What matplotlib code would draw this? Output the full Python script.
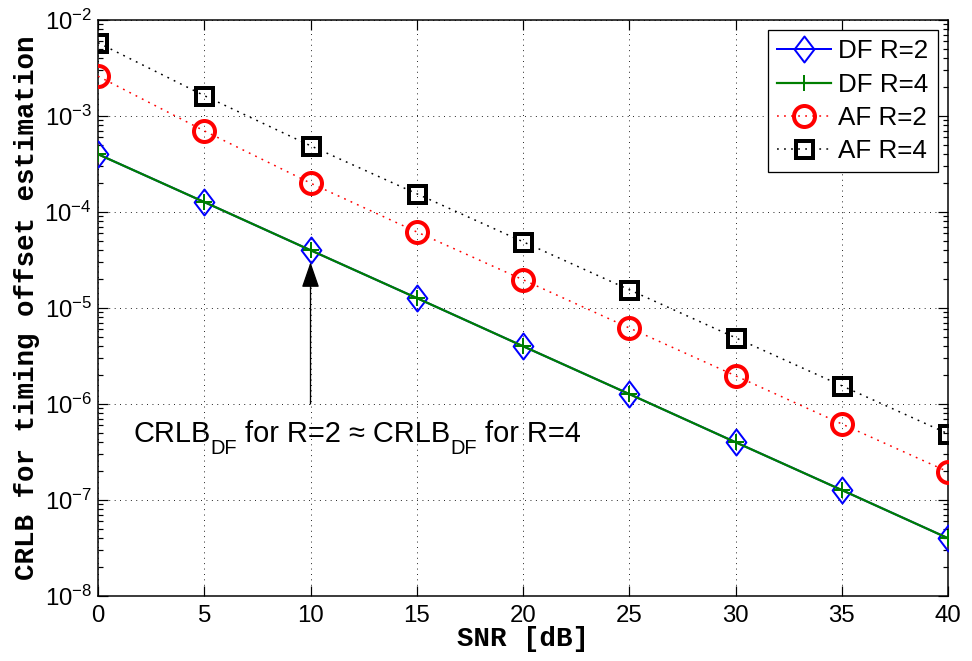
import matplotlib
matplotlib.use("Agg")
import matplotlib.pyplot as plt
from matplotlib.path import Path
from matplotlib.ticker import FixedLocator, NullFormatter, LogFormatterSciNotation
from matplotlib.transforms import offset_copy

# ---- data ----
snr = [0, 5, 10, 15, 20, 25, 30, 35, 40]
df_r2 = [4.0e-4, 1.27e-4, 4.0e-5, 1.27e-5, 4.0e-6, 1.27e-6, 4.0e-7, 1.27e-7, 4.0e-8]
df_r4 = [4.0e-4, 1.27e-4, 4.0e-5, 1.27e-5, 4.0e-6, 1.27e-6, 4.0e-7, 1.27e-7, 4.0e-8]
af_r2 = [2.6e-3, 7.0e-4, 2.0e-4, 6.2e-5, 1.97e-5, 6.2e-6, 1.97e-6, 6.2e-7, 1.97e-7]
af_r4 = [5.8e-3, 1.63e-3, 4.9e-4, 1.55e-4, 4.9e-5, 1.55e-5, 4.9e-6, 1.55e-6, 4.9e-7]
labels = ["DF R=2", "DF R=4", "AF R=2", "AF R=4"]
xticks = [0, 5, 10, 15, 20, 25, 30, 35, 40]
yticks = [1e-8, 1e-7, 1e-6, 1e-5, 1e-4, 1e-3, 1e-2]
annot_pieces = [("CRLB", False), ("DF", True), (" for R=2 \u2248 CRLB", False),
                ("DF", True), (" for R=4", False)]

plt.rcParams['font.family'] = ['Liberation Sans', 'DejaVu Sans']
plt.rcParams['mathtext.default'] = 'regular'

W, H = 972, 661
fig = plt.figure(figsize=(W / 72, H / 72), dpi=72)
ax = fig.add_axes([98 / W, 1 - 596 / H, (948 - 98) / W, (596 - 20) / H])

diamond = Path([(0, 1), (0.76, 0), (0, -1), (-0.76, 0), (0, 1)],
               [Path.MOVETO, Path.LINETO, Path.LINETO, Path.LINETO, Path.CLOSEPOLY])

ax.plot(snr, df_r2, color='#0000ff', lw=2, marker=diamond, ms=26,
        mfc='none', mec='#0000ff', mew=2, label=labels[0], zorder=3)
ax.plot(snr, df_r4, color='#007f00', lw=2.2, marker='+', ms=16,
        mew=2, label=labels[1], zorder=4)
ax.plot(snr, af_r2, color='#ff0000', lw=1.5, ls=(0, (1.2, 3.5)), marker='o', ms=21,
        mfc='none', mec='#ff0000', mew=4, label=labels[2], zorder=3)
ax.plot(snr, af_r4, color='black', lw=1.5, ls=(0, (1.2, 3.5)), marker='s', ms=17,
        mfc='none', mec='black', mew=4, label=labels[3], zorder=3)

ax.set_yscale('log')
ax.set_xlim(0, 40)
ax.set_ylim(1e-8, 1e-2)
ax.xaxis.set_major_locator(FixedLocator(xticks))
ax.yaxis.set_major_locator(FixedLocator(yticks))
ax.yaxis.set_major_formatter(LogFormatterSciNotation())
minor = [m * d for d in yticks[:-1] for m in range(2, 10)]
ax.yaxis.set_minor_locator(FixedLocator(minor))
ax.yaxis.set_minor_formatter(NullFormatter())

ax.grid(True, which='major', color='black', lw=0.9, ls=(0, (1, 5)))
ax.tick_params(which='both', direction='in', top=True, right=True, labelsize=24,
               width=1.2, color='black')
ax.tick_params(which='major', length=10)
ax.tick_params(axis='x', which='major', pad=9)
ax.tick_params(axis='y', which='major', pad=6)
ax.tick_params(which='minor', length=5)
for s in ax.spines.values():
    s.set_linewidth(1.5)

mono = {'family': ['Liberation Mono', 'DejaVu Sans Mono'], 'weight': 'bold', 'size': 27.5}
ax.set_xlabel('SNR [dB]', fontdict=mono, labelpad=-1)
ax.set_ylabel('CRLB for timing offset estimation', fontdict=mono, labelpad=4)

ax.annotate('', xy=(10, 3.0e-5), xytext=(10, 1.0e-6),
            arrowprops=dict(arrowstyle='-|>,head_length=1.1,head_width=0.38',
                            color='black', lw=1.3, mutation_scale=20,
                            shrinkA=0, shrinkB=0))

# composite annotation with MATLAB-like subscripts
renderer = fig.canvas.get_renderer()
dx = 0.0
for txt, sub in annot_pieces:
    size = 20 if sub else 29
    dy = -12 if sub else 0
    t = ax.text(1.65, 4.0e-7, txt, fontsize=size, ha='left', va='baseline',
                transform=offset_copy(ax.transData, fig=fig, x=dx, y=dy, units='dots'))
    bb = t.get_window_extent(renderer=renderer)
    dx += bb.width

leg = ax.legend(loc='upper right', fontsize=26, frameon=True, fancybox=False,
                edgecolor='black', framealpha=1, borderaxespad=0.4,
                handlelength=2.1, handletextpad=0.27, labelspacing=0.35,
                borderpad=0.35)
leg.get_frame().set_linewidth(1.3)

fig.savefig('out.png', dpi=72)
